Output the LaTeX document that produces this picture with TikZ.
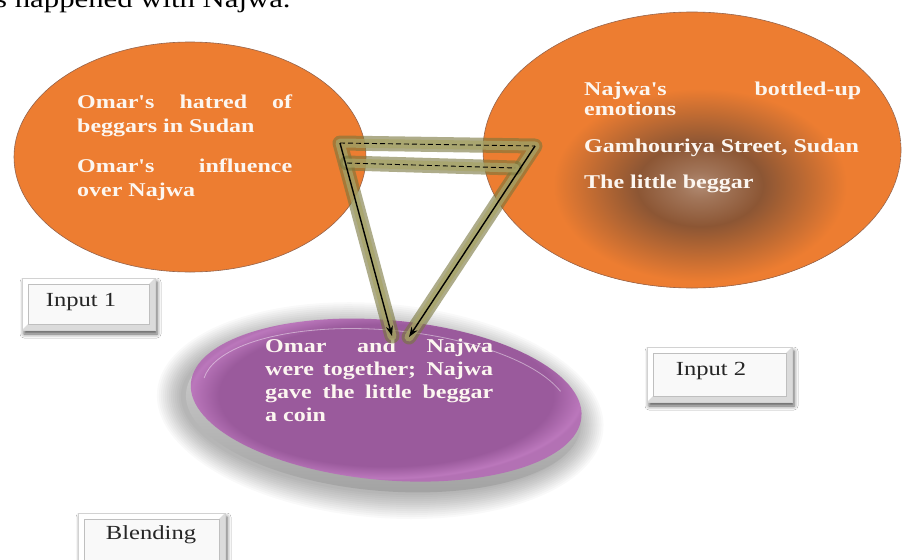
\documentclass[tikz,border=0pt]{standalone}
\usepackage{fontspec}
\setmainfont{Liberation Serif}
\newfontfamily\widefont[FakeStretch=1.23,Ligatures=TeXOff]{Liberation Serif}
\usetikzlibrary{shadows.blur,arrows.meta}

\definecolor{orangeA}{RGB}{237,125,49}
\definecolor{orangeEdge}{RGB}{150,100,75}
\definecolor{brownCore}{RGB}{140,86,52}
\definecolor{tanCore}{RGB}{176,138,114}
\definecolor{plum}{RGB}{154,90,156}
\definecolor{plumLight}{RGB}{205,135,205}
\definecolor{glowDark}{RGB}{120,118,60}
\definecolor{glowLight}{RGB}{168,164,104}
\definecolor{creamText}{RGB}{252,246,240}

% warm glow in the middle of the second input space (path edge at 25bp)
\pgfdeclareradialshading{streetglow}{\pgfpoint{0bp}{0bp}}{%
  color(0bp)=(tanCore); color(3bp)=(tanCore!60!brownCore);
  color(9bp)=(brownCore); color(21bp)=(orangeA); color(25bp)=(orangeA); color(50bp)=(orangeA)}
% blended space: even plum with a faint pink rim
\pgfdeclareradialshading{plumdisc}{\pgfpoint{0bp}{0bp}}{%
  color(0bp)=(plum); color(21bp)=(plum); color(24.5bp)=(plumLight!65!plum); color(25bp)=(plumLight!50!plum); color(50bp)=(plumLight!50!plum)}

\tikzset{
  spacetext/.style={text=creamText, inner sep=0pt, anchor=north west, align=justify,
    font=\widefont\bfseries\fontsize{19.5}{#1}\selectfont,
    execute at begin node={\setlength{\parindent}{0pt}\setlength{\parskip}{16pt}\hyphenpenalty=10000 \exhyphenpenalty=10000 }},
  labeltext/.style={inner sep=0pt, text=black!85, font=\widefont\fontsize{20}{24}\selectfont},
  btnbox/.style={draw=gray!35, fill=white, line width=0.5pt, inner sep=0pt,
    blur shadow={shadow xshift=2pt, shadow yshift=-4pt, shadow blur radius=4pt, shadow opacity=65},
    path picture={
      \fill[gray!28] ([shift={(6pt,6pt)}]path picture bounding box.south west) --
        (path picture bounding box.south west) -- (path picture bounding box.south east) --
        (path picture bounding box.north east) -- ([shift={(-6pt,-6pt)}]path picture bounding box.north east) --
        ([shift={(-6pt,6pt)}]path picture bounding box.south east) -- cycle;
      \fill[gray!5] ([shift={(6pt,6pt)}]path picture bounding box.south west) rectangle
        ([shift={(-6pt,-6pt)}]path picture bounding box.north east);
      \draw[gray!50, line width=0.4pt] ([shift={(6pt,6pt)}]path picture bounding box.south west) rectangle
        ([shift={(-6pt,-6pt)}]path picture bounding box.north east);
    }},
  glowband/.style={line width=15pt, draw=glowDark, draw opacity=0.6, line join=round, line cap=round,
    postaction={draw=glowLight, line width=9pt, draw opacity=0.75}},
  arrowline/.style={line width=1.4pt, -{Stealth[length=10pt,width=7pt]}},
  dashline/.style={line width=0.9pt, dash pattern=on 5pt off 3pt}
}

\begin{document}
\begin{tikzpicture}[x=1pt,y=-1pt]
\useasboundingbox (0,0) rectangle (903,560);
\fill[white] (0,0) rectangle (903,560);

% running text of the page above
\node[inner sep=0pt, anchor=base west, font=\widefont\fontsize{25}{30}\selectfont] (runin) at (-5,7) {s happened with Najwa.};

% input space 1
\draw[fill=orangeA, draw=orangeEdge, line width=0.6pt] (190,157) ellipse [x radius=176pt, y radius=115pt];

% input space 2
\begin{scope}
  \clip (692,150) ellipse [x radius=209pt, y radius=138pt];
  \fill[orangeA] (692,150) ellipse [x radius=209pt, y radius=138pt];
  \shade[shading=streetglow] (700,185) ellipse [x radius=175pt, y radius=115pt];
\end{scope}
\draw[draw=orangeEdge, line width=0.6pt] (692,150) ellipse [x radius=209pt, y radius=138pt];

% soft halo under the blended disc
\begin{scope}[rotate around={-5:(385,402)}]
  \foreach \g in {26,24,...,2}
    \fill[black, opacity=0.022] (381,411) ellipse [x radius=198pt+\g pt, y radius=81pt+\g pt];
\end{scope}

% blended space as a tilted disc
\begin{scope}[rotate around={-5:(385,402)}]
  \shade[top color=gray!30, bottom color=gray!72] (384,410) ellipse [x radius=198pt, y radius=81pt];
  \shade[shading=plumdisc] (386,400) ellipse [x radius=196pt, y radius=80pt];
  \draw[white, opacity=0.45, line width=0.8pt] (386,400) ++(20:184pt and 70pt) arc [start angle=20, end angle=175, x radius=184pt, y radius=70pt];
\end{scope}

% texts of the spaces
\node[spacetext=24, text width=215pt] (in1text) at (77,94.5)
  {Omar's hatred of\linebreak beggars in Sudan\par Omar's influence\linebreak over Najwa};
\node[spacetext=20.5, text width=277pt] (in2text) at (584,81.5)
  {Najwa's bottled-up\linebreak emotions\par Gamhouriya Street, Sudan\par The little beggar};
\node[spacetext=23, text width=228pt] (blendtext) at (265,338.5)
  {Omar and Najwa\linebreak were together; Najwa\linebreak gave the little beggar\linebreak a coin};

% projection connectors
\coordinate (tl) at (340,143);
\coordinate (tr) at (535,146);
\coordinate (d2a) at (347,163);
\coordinate (d2b) at (515,168);
\coordinate (tip1) at (392,336);
\coordinate (tip2) at (409,337);

\draw[glowband] (tip1) -- (tl) -- (tr) -- (tip2);
\draw[glowband] (d2a) -- (d2b);
\draw[dashline] (tl) -- (tr);
\draw[dashline] (d2a) -- (d2b);
\draw[arrowline] (tl) -- (tip1);
\draw[arrowline] (tr) -- (tip2);

% labels
\node[btnbox, minimum width=133pt, minimum height=52pt] (in1box) at (88.5,304) {};
\node[labeltext] (in1label) at (81,302) {Input 1};
\node[btnbox, minimum width=145pt, minimum height=55pt] (in2box) at (719.5,374.5) {};
\node[labeltext] (in2label) at (711,371) {Input 2};
\node[btnbox, minimum width=147pt, minimum height=58pt] (blendbox) at (151.5,542) {};
\node[labeltext] (blendlabel) at (151,535) {Blending};
\end{tikzpicture}
\end{document}
